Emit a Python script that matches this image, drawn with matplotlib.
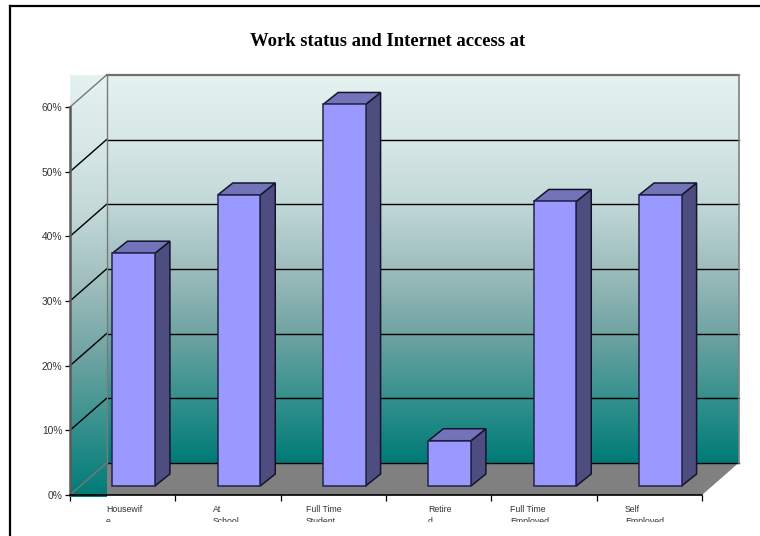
import numpy as np
import matplotlib
matplotlib.use("Agg")
import matplotlib.pyplot as plt
from matplotlib.colors import LinearSegmentedColormap
from matplotlib.patches import Polygon
from matplotlib.transforms import Bbox
from matplotlib.lines import Line2D

plt.rcParams['font.family'] = ['Liberation Sans', 'DejaVu Sans']

title = "Work status and Internet access at"
categories = ["Housewif\ne", "At\nSchool", "Full Time\nStudent", "Retire\nd",
              "Full Time\nEmployed", "Self\nEmployed"]
values = [36, 45, 59, 7, 44, 45]
y_ticks = [0, 10, 20, 30, 40, 50, 60]

W, H = 760, 536
L, R, B, T = 70, 702, 495, 107
fig = plt.figure(figsize=(W / 100, H / 100), dpi=100, facecolor="white")
ax = fig.add_axes([L / W, 1 - B / H, (R - L) / W, (B - T) / H])
ax.set_facecolor("none")

n = len(categories)
ymax = 60
px_x = (R - L) / n
px_y = (B - T) / ymax
DX = 36.5 / px_x      # wall depth, category units
DY = 32 / px_y        # wall depth, percent units
BAR_W = 42.5 / px_x
BAR_INSET_X = 11 / px_x
BAR_INSET_Y = 9 / px_y
BAR_DX = 15 / px_x
BAR_DY = 12 / px_y

wall = LinearSegmentedColormap.from_list("wall", [
    (0.0, "#007b78"), (0.162, "#34908c"), (0.33, "#6ea3a2"), (0.497, "#9dbcbc"),
    (0.678, "#c3d9d9"), (0.84, "#d8e8e7"), (1.0, "#e4f2f0")])
grad = np.linspace(1, 0, 256).reshape(-1, 1)

# floor
ax.add_patch(Polygon([(0, 0), (DX, DY), (n + DX, DY), (n, 0)], closed=True,
                     facecolor="#808080", edgecolor="none", zorder=1, clip_on=False))
# back wall
ax.imshow(grad, cmap=wall, vmin=0, vmax=1, aspect="auto", zorder=1.5, clip_on=False,
          extent=(DX, n + DX, DY, ymax + DY))
# side wall
ax.imshow(grad, cmap=wall, vmin=0, vmax=1, aspect="auto", zorder=1.6, clip_on=False,
          extent=(0, DX, -0.3, ymax + DY))

# gridlines
for v in y_ticks:
    top = v == ymax
    col = "#6f6f6f" if top else "black"
    lw = 1.6 if top else 1.0
    if v > 0:
        ax.plot([DX, n + DX], [v + DY, v + DY], color=col, lw=lw, zorder=2, clip_on=False)
    ax.plot([0, DX], [v, v + DY], color="#777777" if v in (0, ymax) else "black",
            lw=1.0, zorder=2, clip_on=False)
ax.plot([DX, n + DX], [DY, DY], color="black", lw=1.0, zorder=2, clip_on=False)
ax.plot([DX, DX], [DY, ymax + DY], color="#7a7a7a", lw=1.0, zorder=2, clip_on=False)
ax.plot([n + DX, n + DX], [DY, ymax + DY], color="#808080", lw=1.2, zorder=2, clip_on=False)

# bars
xs = np.arange(n) + 0.5 + BAR_INSET_X
ax.bar(xs, values, width=BAR_W, bottom=BAR_INSET_Y, color="#9999ff",
       edgecolor="#24244a", linewidth=1.1, zorder=4, clip_on=False)
for x, v in zip(xs, values):
    x0, x1 = x - BAR_W / 2, x + BAR_W / 2
    y0, y1 = BAR_INSET_Y, BAR_INSET_Y + v
    ax.add_patch(Polygon([(x1, y0), (x1 + BAR_DX, y0 + BAR_DY), (x1 + BAR_DX, y1 + BAR_DY), (x1, y1)],
                         closed=True, facecolor="#4d4d80", edgecolor="#14142c", lw=1.1,
                         zorder=3.5, clip_on=False))
    ax.add_patch(Polygon([(x0, y1), (x0 + BAR_DX, y1 + BAR_DY), (x1 + BAR_DX, y1 + BAR_DY), (x1, y1)],
                         closed=True, facecolor="#7373b9", edgecolor="#14142c", lw=1.1,
                         zorder=3.5, clip_on=False))

ax.set_xlim(0, n)
ax.set_ylim(0, ymax)
for s in ("top", "right"):
    ax.spines[s].set_visible(False)
ax.spines["left"].set_color("#5a5a5a")
ax.spines["left"].set_linewidth(1.8)
ax.spines["bottom"].set_color("black")
ax.spines["bottom"].set_linewidth(1.2)
ax.spines["left"].set_zorder(5)
ax.spines["bottom"].set_zorder(5)
ax.set_yticks(y_ticks)
ax.set_yticklabels([f"{v}%" for v in y_ticks], fontsize=7.4, color="#333333")
ax.set_xticks(range(n + 1))
ax.set_xticklabels([])
ax.tick_params(axis="y", length=5.5 * 0.72, width=0.9, color="black", pad=1.6)
ax.tick_params(axis="x", length=6 * 0.72, width=0.9, color="black")

# category labels: wrapped, left aligned and cut off by their box
label_left = [106, 213, 306, 428, 510, 625]
clip = Bbox([[0, H - 522], [W, H]])
for name, px in zip(categories, label_left):
    t = fig.text(px / W, 1 - 505.5 / H, name, fontsize=6.3, ha="left", va="top",
                 color="#333333", linespacing=1.3)
    t.set_clip_box(clip)
    t.set_clip_on(True)

fig.text(388 / W, 1 - 41.5 / H, title, family="Liberation Serif", weight="bold",
         fontsize=13.4, ha="center", va="center", color="black")

# outer frame
fig.add_artist(Line2D([10 / W, 10 / W], [0, 1 - 6 / H], color="black", lw=1.6))
fig.add_artist(Line2D([9.5 / W, 1], [1 - 6 / H, 1 - 6 / H], color="black", lw=1.6))

fig.savefig("out.png", dpi=100)
